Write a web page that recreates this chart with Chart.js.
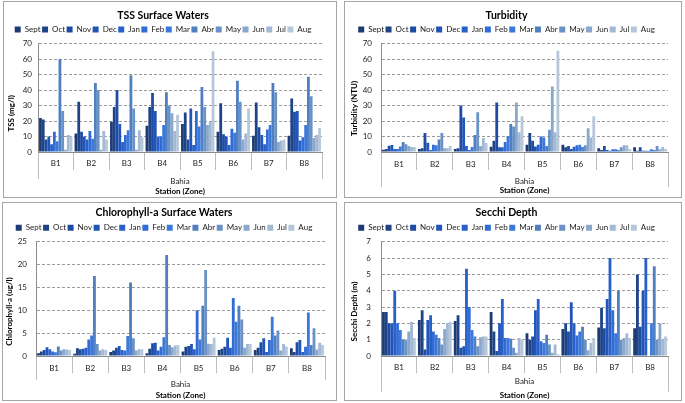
<!DOCTYPE html>
<html>
<head>
<meta charset="utf-8">
<script src="https://cdn.jsdelivr.net/npm/chart.js@4/dist/chart.umd.min.js"></script>
<style>
  html, body { margin: 0; padding: 0; background: #fff; }
  body { width: 685px; height: 403px; position: relative; overflow: hidden; }
  .panel { position: absolute; border: 1px solid #a6a6a6; box-sizing: border-box; background: #fff; }
  .panel canvas { display: block; }
</style>
</head>
<body>
<div class="panel" style="left:3px;top:1px;width:334px;height:197px"><canvas id="tss" width="332" height="195"></canvas></div>
<div class="panel" style="left:344px;top:1px;width:338px;height:197px"><canvas id="turb" width="336" height="195"></canvas></div>
<div class="panel" style="left:2px;top:202px;width:335px;height:199px"><canvas id="chla" width="333" height="197"></canvas></div>
<div class="panel" style="left:344px;top:202px;width:338px;height:199px"><canvas id="secchi" width="336" height="197"></canvas></div>
<script>
'use strict'

// categories and months
var stations = ['B1', 'B2', 'B3', 'B4', 'B5', 'B6', 'B7', 'B8'];
var months = ['Sept', 'Oct', 'Nov', 'Dec', 'Jan', 'Feb', 'Mar', 'Abr', 'May', 'Jun', 'Jul', 'Aug'];

// one row per station, Sept..Aug
var tss = [
    [22, 21, 8, 10, 5, 13, 7, 60, 26.5, 1.5, 11, 10],
    [12, 32.5, 13, 10, 8, 13.5, 8.5, 44.5, 40, 1.5, 13.5, 8],
    [19.5, 29, 40, 18, 6.5, 11, 14, 49.5, 28, 1.5, 14, 9.5],
    [17, 29, 38, 26.5, 10, 10, 17.5, 38.5, 30, 25, 13.5, 24],
    [18, 25.5, 8, 28, 4.5, 26.5, 16.5, 42, 29, 17.5, 19.5, 65],
    [13, 31.5, 11.5, 10, 4.5, 15, 12.5, 46, 32.5, 8, 12, 28],
    [10.5, 32, 16, 11, 5, 14.5, 17.5, 44.5, 38.5, 6.5, 7.5, 8],
    [10.5, 34.5, 26, 26.5, 7.5, 9.5, 17.5, 48.5, 36, 9, 11, 15.5]
];

var turbidity = [
    [1.5, 2, 4, 4.5, 2, 2, 3.5, 6.5, 5, 3.8, 3.3, 3.3],
    [2, 2.5, 12.3, 6, 1.3, 4.7, 4.3, 8, 12.3, 2.5, 2.5, 3.8],
    [2, 2.5, 30, 22.3, 3.8, 1.3, 3.3, 11, 25.7, 3.8, 9, 5.8],
    [3.4, 7.3, 32, 3, 3, 6.4, 10.3, 18, 16.5, 32, 12.8, 23],
    [4.7, 12.3, 7.3, 3.5, 4.7, 10, 9.3, 3.8, 14.3, 42.3, 12.8, 65.3],
    [4.7, 3, 3.8, 2, 3.4, 4.3, 4.7, 3.2, 4.3, 15.4, 9.4, 23],
    [2.5, 1.3, 3.8, 1.3, 0.8, 1.7, 1.7, 1.3, 3, 4.3, 4.3, 2],
    [3, 0.8, 3, 0.8, 0.8, 0.8, 1.7, 1.3, 3.8, 1.7, 3.2, 2]
];

var chlorophyll = [
    [0.6, 1.0, 1.3, 1.9, 1.5, 1.0, 0.8, 2.1, 1.2, 1.5, 1.4, 1.3],
    [0.5, 1.7, 1.5, 1.6, 1.8, 3.6, 4.5, 17.5, 2.6, 1.2, 1.5, 1.3],
    [0.9, 1.2, 1.8, 2.2, 1.3, 1.2, 4.4, 16.1, 3.9, 1.2, 1.5, 1.5],
    [0.6, 1.6, 2.8, 2.9, 1.2, 2.0, 4.1, 22.1, 2.4, 1.9, 2.3, 2.4],
    [1.0, 2.0, 2.2, 2.6, 1.5, 10.0, 3.6, 11.0, 18.8, 2.7, 2.6, 4.0],
    [1.3, 1.6, 2.0, 4.0, 1.8, 12.7, 7.5, 11.0, 8.0, 1.8, 2.6, 2.6],
    [1.3, 1.8, 3.0, 3.9, 0.9, 3.5, 8.6, 4.5, 5.6, 1.2, 2.6, 2.1],
    [1.7, 0.9, 3.0, 3.5, 0.9, 2.0, 9.5, 2.4, 6.1, 1.4, 2.9, 2.4]
];

var secchi = [
    [2.7, 2.7, 2.0, 2.0, 4.0, 2.0, 1.6, 1.0, 1.0, 1.5, 2.1, 1.1],
    [2.2, 2.8, 0.4, 2.2, 2.5, 1.5, 1.3, 1.1, 0.7, 1.65, 2.0, 2.1],
    [2.15, 2.5, 0.5, 0.6, 5.35, 3.0, 1.6, 1.2, 0.6, 1.15, 1.2, 1.2],
    [2.7, 1.5, 0.3, 2.0, 3.5, 1.1, 1.1, 1.05, 0.5, 0.2, 1.1, 1.0],
    [1.4, 1.0, 1.2, 2.8, 3.5, 0.9, 0.8, 1.3, 0.7, 0.2, 0.7, 0.1],
    [1.65, 2.0, 1.5, 3.3, 2.0, 1.25, 1.5, 1.8, 1.0, 0.35, 0.8, 1.1],
    [1.75, 2.95, 1.7, 3.5, 6.0, 2.8, 1.4, 4.0, 1.0, 1.1, 1.4, 1.1],
    [1.7, 5.0, 1.8, 4.0, 6.0, 0, 2.0, 5.5, 1.0, 2.0, 1.0, 1.2]
];

var monthColors = ['#1c3b73', '#1e4488', '#1f4ca3', '#2255b8', '#2760c8', '#2f6cd6',
    '#3a78dc', '#4f7fbf', '#6a92c6', '#8aa7cc', '#a2b8d3', '#b7c7da'];

var FONT = 'Lato, "DejaVu Sans", sans-serif';
var TEXT = '#222';

// trailing no-break spaces push the centred axis title down, like Excel does
function padTitle(text, n) {
    return text + new Array(n + 1).join('\u00a0');
}

function makeChart(id, p) {
    // one dataset per month, one bar per station
    var datasets = months.map(function (m, i) {
        return {
            label: m,
            data: p.values.map(function (row) { return row[i]; }),
            backgroundColor: monthColors[i],
            borderWidth: 0,
            categoryPercentage: 0.94,
            barPercentage: 1
        };
    });

    return new Chart(document.getElementById(id), {
        type: 'bar',
        data: { labels: stations, datasets: datasets },
        options: {
            responsive: false,
            animation: false,
            layout: { padding: { left: 0, right: p.padRight, top: 0, bottom: 0 } },
            plugins: {
                tooltip: { enabled: false },
                title: {
                    display: true,
                    text: p.title,
                    color: '#000',
                    font: { family: FONT, size: 10.5, weight: 'bold' },
                    padding: { top: p.titleTop, bottom: p.titleBottom }
                },
                legend: {
                    position: 'top',
                    labels: {
                        boxWidth: 6,
                        boxHeight: 6,
                        padding: 1.5,
                        color: TEXT,
                        font: { family: FONT, size: 8 }
                    }
                }
            },
            scales: {
                x: {
                    position: 'bottom',
                    grid: { offset: true, drawOnChartArea: false, tickLength: p.xH, color: '#bdbdbd' },
                    border: { color: '#8c8c8c' },
                    ticks: { padding: p.labelPad, color: TEXT, font: { family: FONT, size: 8 } },
                    afterFit: function (s) { s.height = p.xH; }
                },
                x2: {
                    position: 'bottom',
                    weight: 1,
                    labels: ['Bahia'],
                    grid: { offset: true, drawOnChartArea: false, tickLength: p.edgeLen, color: '#bdbdbd' },
                    border: { display: false },
                    ticks: { padding: p.bahiaPad, color: TEXT, font: { family: FONT, size: 8 } },
                    title: {
                        display: true,
                        text: 'Station (Zone)',
                        color: '#000',
                        font: { family: FONT, size: 8, weight: 'bold' },
                        padding: { top: 0, bottom: p.stationPad }
                    },
                    afterFit: function (s) { s.height = p.x2H; }
                },
                y: {
                    min: 0,
                    max: p.max,
                    grid: { color: '#9c9c9c', drawTicks: false },
                    border: { color: '#8c8c8c', dash: [3, 2] },
                    ticks: { stepSize: p.step, padding: p.yPad, color: TEXT, font: { family: FONT, size: 8 } },
                    title: {
                        display: true,
                        text: padTitle(p.yTitle, p.yShift),
                        color: '#000',
                        font: { family: FONT, size: 8, weight: 'bold' },
                        padding: { top: p.yTitlePad, bottom: 0 }
                    },
                    afterFit: function (s) { s.width = p.yW; }
                }
            }
        }
    });
}

makeChart('tss', {
    title: 'TSS Surface Waters', yTitle: 'TSS (mg/l)', yShift: 16, values: tss, max: 70, step: 10,
    padRight: 14, titleTop: 7, titleBottom: 2.4, yW: 34, yPad: 6, yTitlePad: 3,
    xH: 18, labelPad: -11.8, x2H: 27, edgeLen: 9, bahiaPad: -2.8, stationPad: 1.2
});

makeChart('turb', {
    title: 'Turbidity', yTitle: 'Turbidity (NTU)', yShift: 11, values: turbidity, max: 70, step: 10,
    padRight: 13, titleTop: 7, titleBottom: 2.4, yW: 36, yPad: 9, yTitlePad: 5,
    xH: 18, labelPad: -10.8, x2H: 27, edgeLen: 17, bahiaPad: -10.8, stationPad: 2
});

makeChart('chla', {
    title: 'Chlorophyll-a Surface Waters', yTitle: 'Chlorophyll-a (ug/l)', yShift: 13, values: chlorophyll, max: 25, step: 5,
    padRight: 11, titleTop: 3, titleBottom: 3.7, yW: 33, yPad: 9, yTitlePad: 1.5,
    xH: 17, labelPad: -9.8, x2H: 27, edgeLen: 7, bahiaPad: -0.8, stationPad: 0
});

makeChart('secchi', {
    title: 'Secchi Depth', yTitle: 'Secchi Depth (m)', yShift: 13, values: secchi, max: 7, step: 1,
    padRight: 13, titleTop: 3, titleBottom: 3.7, yW: 36, yPad: 10, yTitlePad: 5,
    xH: 17, labelPad: -10, x2H: 27, edgeLen: 18.7, bahiaPad: -14.8, stationPad: 0.2
});
</script>
</body>
</html>
